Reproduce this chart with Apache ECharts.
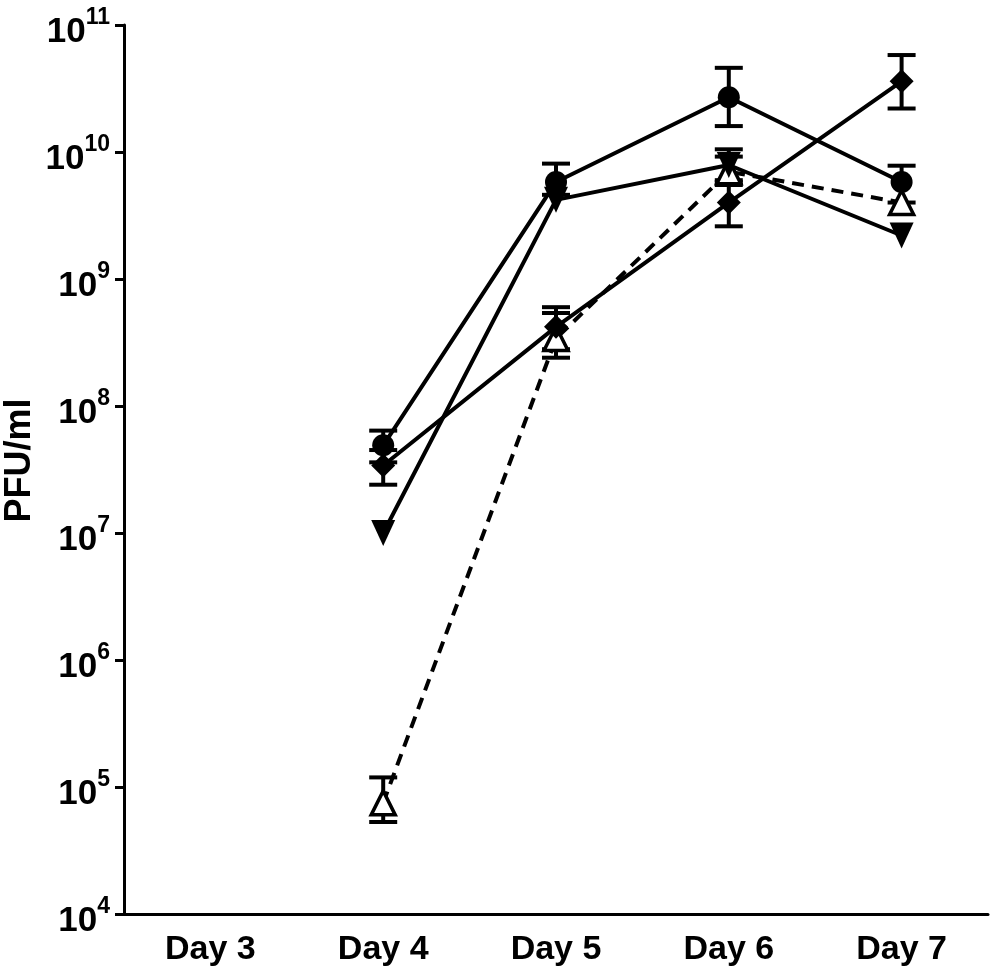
<!DOCTYPE html>
<html>
<head>
<meta charset="utf-8">
<script src="https://cdn.jsdelivr.net/npm/echarts@6/dist/echarts.min.js"></script>
<style>
  html, body { margin: 0; padding: 0; background: #fff; }
  #chart { width: 995px; height: 977px; }
</style>
</head>
<body>
<div id="chart"></div>
<script>
// categories
const days = ['Day 3', 'Day 4', 'Day 5', 'Day 6', 'Day 7'];

// filled circle, solid line
const circleMean = [null, 4.9e7, 5.8e9, 2.7e10, 5.8e9];
const circleLow  = [null, 3.6e7, 4.6e9, 1.6e10, 4.0e9];
const circleHigh = [null, 6.4e7, 8.1e9, 4.6e10, 7.8e9];

// filled inverted triangle, solid line (bars hidden by marker where null)
const invTriMean = [null, 1.0e7, 4.2e9, 7.9e9, 2.2e9];
const invTriLow  = [null, null, null, 5.8e9, null];
const invTriHigh = [null, null, null, 1.05e10, null];

// filled diamond, solid line
const diamondMean = [null, 3.4e7, 4.2e8, 4.0e9, 3.6e10];
const diamondLow  = [null, 2.4e7, 2.4e8, 2.6e9, 2.2e10];
const diamondHigh = [null, 4.5e7, 6.0e8, 6.0e9, 5.8e10];

// open triangle, dashed line
const openTriMean = [null, 7.5e4, 3.4e8, 7.0e9, 4.0e9];
const openTriLow  = [null, 5.3e4, 2.8e8, 5.5e9, null];
const openTriHigh = [null, 1.19e5, 5.4e8, 9.2e9, null];

const font = '"Liberation Sans", Arial, sans-serif';

const chart = echarts.init(document.getElementById('chart'));

function errorBars(low, high) {
  const data = [];
  low.forEach((l, i) => {
    if (l != null) data.push([i, l, high[i]]);
  });
  return {
    type: 'custom',
    z: 1,
    data: data,
    renderItem: function (params, api) {
      const lo = api.coord([api.value(0), api.value(1)]);
      const hi = api.coord([api.value(0), api.value(2)]);
      const half = 14;
      const style = { stroke: '#000', lineWidth: 4 };
      return {
        type: 'group',
        children: [
          { type: 'line', shape: { x1: lo[0], y1: lo[1], x2: hi[0], y2: hi[1] }, style: style },
          { type: 'line', shape: { x1: lo[0] - half, y1: lo[1], x2: lo[0] + half, y2: lo[1] }, style: style },
          { type: 'line', shape: { x1: hi[0] - half, y1: hi[1], x2: hi[0] + half, y2: hi[1] }, style: style }
        ]
      };
    }
  };
}

function lineSeries(values, symbol, size, opts) {
  return Object.assign({
    type: 'line',
    z: 3,
    data: values.map(v => (v == null ? '-' : v)),
    symbol: symbol,
    symbolSize: size,
    showAllSymbol: true,
    lineStyle: { color: '#000', width: 4 },
    itemStyle: { color: '#000', borderColor: '#000', borderWidth: 0 }
  }, opts || {});
}

const option = {
  animation: false,
  backgroundColor: '#fff',
  grid: { left: 124, right: 7, top: 25, bottom: 63, outerBoundsMode: 'none' },
  xAxis: {
    type: 'category',
    data: days,
    boundaryGap: true,
    axisLine: { lineStyle: { color: '#000', width: 3 } },
    axisTick: { alignWithLabel: true, length: 10, lineStyle: { color: '#000', width: 3 } },
    axisLabel: { color: '#000', fontFamily: font, fontWeight: 'bold', fontSize: 34, margin: 19 }
  },
  yAxis: {
    type: 'log',
    logBase: 10,
    min: 1e4,
    max: 1e11,
    splitNumber: 7,
    name: 'PFU/ml',
    nameLocation: 'middle',
    nameRotate: 90,
    nameGap: 86,
    nameMoveOverlap: false,
    nameTextStyle: { color: '#000', fontFamily: font, fontWeight: 'bold', fontSize: 36, padding: [0, 0, 0, 18] },
    axisLine: { show: true, lineStyle: { color: '#000', width: 3 } },
    axisTick: { show: true, length: 9, lineStyle: { color: '#000', width: 3 } },
    splitLine: { show: false },
    axisLabel: {
      margin: 14,
      padding: [6, 0, 0, 0],
      formatter: function (value) {
        return '{b|10}{s|' + Math.round(Math.log10(value)) + '}';
      },
      rich: {
        b: { color: '#000', fontFamily: font, fontWeight: 'bold', fontSize: 35, lineHeight: 44, verticalAlign: 'bottom' },
        s: { color: '#000', fontFamily: font, fontWeight: 'bold', fontSize: 23, lineHeight: 20, verticalAlign: 'top' }
      }
    }
  },
  series: [
    errorBars(circleLow, circleHigh),
    errorBars(invTriLow, invTriHigh),
    errorBars(diamondLow, diamondHigh),
    errorBars(openTriLow, openTriHigh),
    lineSeries(openTriMean, 'triangle', 24, {
      lineStyle: { color: '#000', width: 4, type: [12, 8] },
      itemStyle: { color: '#fff', borderColor: '#000', borderWidth: 3.5 }
    }),
    lineSeries(diamondMean, 'diamond', 24),
    lineSeries(invTriMean, 'triangle', [24, 26], { symbolRotate: 180 }),
    lineSeries(circleMean, 'circle', 22)
  ]
};

chart.setOption(option);
</script>
</body>
</html>
